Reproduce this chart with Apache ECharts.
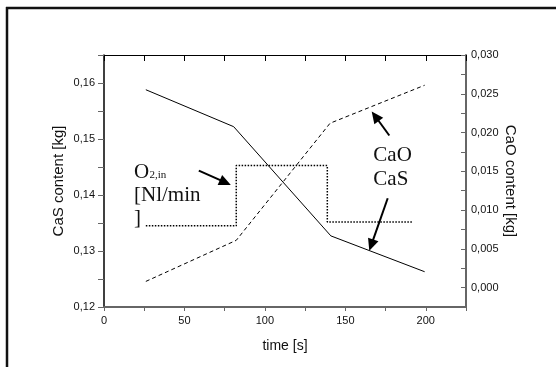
<!DOCTYPE html>
<html><head><meta charset="utf-8">
<script src="https://cdn.jsdelivr.net/npm/echarts@6/dist/echarts.min.js"></script>
<style>html,body{margin:0;padding:0;background:#fff}#c{width:556px;height:367px}</style>
</head><body><div id="c"></div><script>
// ---- data ----
const casTime   = [26, 80.6, 141, 199.3];
const casValues = [0.1588, 0.1522, 0.1327, 0.1263];       // CaS content [kg], left axis
const caoTime   = [26, 82.2, 140.5, 199.3];
const caoValues = [0.0008, 0.0061, 0.0212, 0.0261];       // CaO content [kg], right axis
const o2Time    = [26, 82.2, 82.2, 138.8, 138.8, 191.6];
const o2Level   = [0.1345, 0.1345, 0.14525, 0.14525, 0.1352, 0.1352]; // drawn on left-axis scale
const xTickLabels     = [0, 50, 100, 150, 200];
const leftTickLabels  = [0.12, 0.13, 0.14, 0.15, 0.16];
const rightTickLabels = [0, 0.005, 0.010, 0.015, 0.020, 0.025, 0.030];

// annotation anchors in data coordinates (time s, CaS kg)
const textNotes = [
  {t:'O', x:18.67, y:0.14407, size:21},
  {t:'2,in', x:28.25, y:0.1435, size:11},
  {t:'[Nl/min', x:18.67, y:0.13995, size:21},
  {t:']', x:18.67, y:0.13583, size:21},
  {t:'CaO', x:167.4, y:0.14712, size:21},
  {t:'CaS', x:167.4, y:0.14282, size:21}
];
const arrowNotes = [
  {from:[58.93, 0.14436], to:[78.84, 0.14180]},
  {from:[177.34, 0.15063], to:[166.39, 0.15493]},
  {from:[176.34, 0.13942], to:[164.89, 0.13003]}
];

const zip = (a, b) => a.map((v, i) => [v, b[i]]);
const isIn = (arr, v) => arr.some(t => Math.abs(t - v) < 1e-9);
const SANS = 'Liberation Sans, Arial, sans-serif';
const SERIF = 'Liberation Serif, Times New Roman, serif';

const chart = echarts.init(document.getElementById('c'), null, {renderer:'canvas'});
chart.setOption({
  animation: false,
  backgroundColor: '#fff',
  grid: {left:104, right:90, top:55, bottom:60, containLabel:false, outerBoundsMode:'none'},
  xAxis: [
    {type:'value', position:'bottom', min:0, max:225, interval:25,
     axisLine:{show:true, onZero:false, lineStyle:{color:'#666', width:2}},
     axisTick:{show:true, inside:false, length:4, lineStyle:{color:'#666', width:1}},
     axisLabel:{show:true, margin:8, fontSize:11, color:'#111', fontFamily:SANS,
       formatter: v => isIn(xTickLabels, v) ? String(v) : ''},
     splitLine:{show:false},
     name:'time [s]', nameLocation:'middle', nameGap:32, nameMoveOverlap:false,
     nameTextStyle:{fontSize:14, color:'#111', fontFamily:SANS}},
    {type:'value', position:'top', min:0, max:225, interval:25,
     axisLine:{show:true, onZero:false, lineStyle:{color:'#000', width:1}},
     axisTick:{show:true, inside:true, length:6, lineStyle:{color:'#000', width:1}},
     axisLabel:{show:false}, splitLine:{show:false}}
  ],
  yAxis: [
    {type:'value', position:'left', min:0.12, max:0.165, interval:0.005,
     axisLine:{show:true, onZero:false, lineStyle:{color:'#000', width:1.5}},
     axisTick:{show:true, inside:false, length:6, lineStyle:{color:'#666', width:1}},
     axisLabel:{show:true, margin:9, fontSize:11, color:'#111', fontFamily:SANS,
       formatter: v => isIn(leftTickLabels, v) ? v.toFixed(2).replace('.', ',') : ''},
     splitLine:{show:false},
     name:'CaS content [kg]', nameLocation:'middle', nameGap:38, nameRotate:90, nameMoveOverlap:false,
     nameTextStyle:{fontSize:15, color:'#111', fontFamily:SANS}},
    {type:'value', position:'right', min:-0.0025, max:0.030, interval:0.0025,
     axisLine:{show:true, onZero:false, lineStyle:{color:'#666', width:2}},
     axisTick:{show:true, inside:true, length:5, lineStyle:{color:'#666', width:1}},
     axisLabel:{show:true, margin:5, fontSize:11, color:'#111', fontFamily:SANS,
       formatter: v => isIn(rightTickLabels, v) ? Math.abs(v).toFixed(3).replace('.', ',') : ''},
     splitLine:{show:false},
     name:'CaO content [kg]', nameLocation:'middle', nameGap:37, nameRotate:-90, nameMoveOverlap:false,
     nameTextStyle:{fontSize:15, color:'#111', fontFamily:SANS}}
  ],
  series: [
    {name:'CaS', type:'line', xAxisIndex:0, yAxisIndex:0, data:zip(casTime, casValues),
     showSymbol:false, lineStyle:{color:'#000', width:1}},
    {name:'CaO', type:'line', xAxisIndex:0, yAxisIndex:1, data:zip(caoTime, caoValues),
     showSymbol:false, lineStyle:{color:'#000', width:1, type:[4,3]}},
    {name:'O2,in', type:'line', xAxisIndex:0, yAxisIndex:0, data:zip(o2Time, o2Level),
     showSymbol:false, lineStyle:{color:'#000', width:1.5, type:[1.5,1.5]}}
  ]
});

const px = p => chart.convertToPixel({xAxisIndex:0, yAxisIndex:0}, p);
const graphics = [
  {type:'line', shape:{x1:6, y1:8, x2:556, y2:8}, style:{stroke:'#111', lineWidth:2.5}},
  {type:'line', shape:{x1:7, y1:7, x2:7, y2:367}, style:{stroke:'#111', lineWidth:2.5}}
];
textNotes.forEach(n => {
  const p = px([n.x, n.y]);
  graphics.push({type:'text', x:p[0], y:p[1],
    style:{text:n.t, fill:'#111', font: n.size + 'px ' + SERIF, textAlign:'left', textVerticalAlign:'middle', verticalAlign:'middle'}});
});
arrowNotes.forEach(a => {
  const f = px(a.from), t = px(a.to);
  const dx = t[0]-f[0], dy = t[1]-f[1], L = Math.hypot(dx, dy);
  const ux = dx/L, uy = dy/L, hl = 12, hw = 5.5;
  const bx = t[0]-ux*hl, by = t[1]-uy*hl;
  graphics.push({type:'line', shape:{x1:f[0], y1:f[1], x2:bx+ux*1, y2:by+uy*1}, style:{stroke:'#000', lineWidth:2}});
  graphics.push({type:'polygon', shape:{points:[[t[0],t[1]],[bx-uy*hw, by+ux*hw],[bx+uy*hw, by-ux*hw]]}, style:{fill:'#000'}});
});
chart.setOption({graphic: graphics});
</script></body></html>
